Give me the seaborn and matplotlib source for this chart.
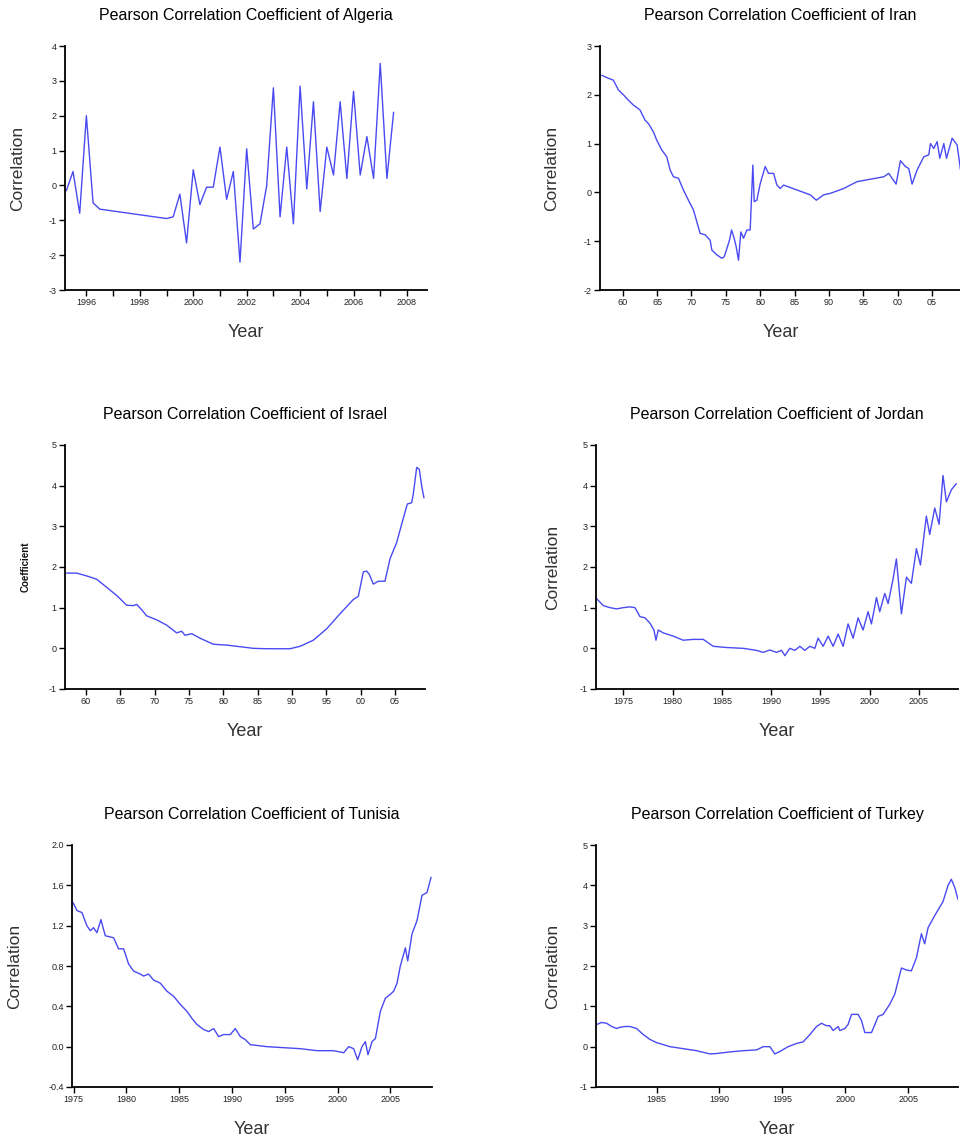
import matplotlib
matplotlib.use("Agg")
import matplotlib.pyplot as plt
import seaborn as sns
import pandas as pd

sns.set_style("ticks")
plt.rcParams['font.family'] = ['Liberation Sans', 'DejaVu Sans']

# ---------------- data ----------------
countries = ["Algeria", "Iran", "Israel", "Jordan", "Tunisia", "Turkey"]

algeria_years = [1995.25, 1995.5, 1995.75, 1996.0, 1996.25, 1996.5,
                 1999.0, 1999.25, 1999.5, 1999.75, 2000.0, 2000.25, 2000.5, 2000.75,
                 2001.0, 2001.25, 2001.5, 2001.75, 2002.0, 2002.25, 2002.5, 2002.75,
                 2003.0, 2003.25, 2003.5, 2003.75, 2004.0, 2004.25, 2004.5, 2004.75,
                 2005.0, 2005.25, 2005.5, 2005.75, 2006.0, 2006.25, 2006.5, 2006.75,
                 2007.0, 2007.25, 2007.5]
algeria_vals = [-0.15, 0.4, -0.8, 2.0, -0.5, -0.68,
                -0.95, -0.9, -0.25, -1.65, 0.45, -0.55, -0.05, -0.05,
                1.1, -0.4, 0.4, -2.2, 1.05, -1.25, -1.1, 0.0,
                2.8, -0.9, 1.1, -1.1, 2.85, -0.1, 2.4, -0.75,
                1.1, 0.3, 2.4, 0.2, 2.7, 0.3, 1.4, 0.2,
                3.5, 0.2, 2.1]

iran_years = [1956.94, 1957.91, 1958.64, 1959.37, 1960.1, 1960.83, 1961.55, 1962.52,
              1963.25, 1963.74, 1964.47, 1964.95, 1965.68, 1966.41, 1966.89, 1967.38,
              1968.11, 1968.83, 1969.56, 1970.29, 1970.78, 1971.26, 1971.99, 1972.72,
              1972.96, 1973.69, 1974.42, 1974.76, 1975.15, 1975.53, 1975.83, 1976.21,
              1976.5, 1976.84, 1977.18, 1977.57, 1978.06, 1978.54, 1978.93, 1979.13,
              1979.51, 1980.0, 1980.73, 1981.21, 1981.94, 1982.43, 1982.91, 1983.4,
              1985.34, 1987.28, 1988.16, 1989.22, 1990.19, 1992.14, 1994.08, 1996.02,
              1997.96, 1998.69, 1999.17, 1999.76, 2000.39, 2001.12, 2001.6, 2002.09,
              2002.82, 2003.79, 2004.51, 2004.76, 2005.24, 2005.73, 2006.12, 2006.7,
              2007.09, 2007.91, 2008.64, 2009.13]
iran_vals = [2.40, 2.34, 2.30, 2.10, 2.00, 1.89, 1.79, 1.69,
             1.48, 1.41, 1.24, 1.07, 0.87, 0.73, 0.46, 0.32,
             0.29, 0.05, -0.16, -0.36, -0.60, -0.84, -0.87, -0.98,
             -1.18, -1.28, -1.35, -1.32, -1.15, -0.98, -0.77, -0.94,
             -1.11, -1.39, -0.81, -0.94, -0.77, -0.77, 0.56, -0.19,
             -0.16, 0.18, 0.53, 0.39, 0.39, 0.15, 0.08, 0.15,
             0.05, -0.05, -0.16, -0.05, -0.02, 0.08, 0.22, 0.27,
             0.32, 0.39, 0.29, 0.17, 0.65, 0.53, 0.49, 0.17,
             0.46, 0.73, 0.77, 1.00, 0.90, 1.04, 0.70, 1.00,
             0.70, 1.11, 0.97, 0.46]

israel_years = [1957.18, 1958.64, 1960.1, 1961.55, 1963.01, 1964.47, 1965.92, 1966.89,
                1967.38, 1968.1, 1968.83, 1970.29, 1971.75, 1973.2, 1973.93, 1974.42,
                1975.39, 1976.6, 1978.54, 1980.49, 1982.43, 1984.37, 1986.31, 1988.25,
                1989.71, 1991.17, 1993.11, 1995.05, 1996.99, 1998.93, 1999.66, 2000.39,
                2000.87, 2001.26, 2001.84, 2002.57, 2003.54, 2004.27, 2005.24, 2006.21,
                2006.8, 2007.43, 2007.67, 2008.16, 2008.54, 2008.88, 2009.22]
israel_vals = [1.85, 1.85, 1.78, 1.70, 1.50, 1.30, 1.06, 1.05,
               1.08, 0.95, 0.80, 0.70, 0.57, 0.38, 0.42, 0.32,
               0.36, 0.25, 0.10, 0.08, 0.04, 0.00, -0.01, -0.01,
               -0.01, 0.05, 0.20, 0.48, 0.85, 1.20, 1.28, 1.88,
               1.90, 1.82, 1.58, 1.65, 1.65, 2.20, 2.60, 3.20,
               3.55, 3.58, 3.80, 4.45, 4.40, 4.00, 3.70]

jordan_years = [1972.3, 1972.97, 1973.65, 1974.32, 1975.0, 1975.68, 1976.18, 1976.69,
                1977.2, 1977.7, 1978.11, 1978.31, 1978.55, 1979.05, 1980.07, 1981.08,
                1982.09, 1983.11, 1984.12, 1985.47, 1987.16, 1988.51, 1989.19, 1989.86,
                1990.54, 1991.05, 1991.39, 1991.89, 1992.4, 1992.91, 1993.41, 1993.92,
                1994.43, 1994.76, 1995.27, 1995.78, 1996.28, 1996.79, 1997.3, 1997.8,
                1998.31, 1998.82, 1999.32, 1999.83, 2000.17, 2000.68, 2001.01, 2001.52,
                2001.86, 2002.36, 2002.7, 2003.21, 2003.72, 2004.22, 2004.73, 2005.14,
                2005.74, 2006.08, 2006.59, 2007.03, 2007.43, 2007.77, 2008.28, 2008.78]
jordan_vals = [1.22, 1.05, 1.00, 0.97, 1.00, 1.02, 1.00, 0.78,
               0.75, 0.62, 0.45, 0.20, 0.45, 0.38, 0.30, 0.20,
               0.22, 0.22, 0.05, 0.02, 0.00, -0.05, -0.10, -0.04,
               -0.10, -0.05, -0.18, 0.00, -0.05, 0.05, -0.05, 0.05,
               0.00, 0.25, 0.05, 0.30, 0.05, 0.35, 0.05, 0.60,
               0.25, 0.75, 0.45, 0.90, 0.60, 1.25, 0.90, 1.35,
               1.10, 1.70, 2.20, 0.85, 1.75, 1.60, 2.45, 2.05,
               3.25, 2.80, 3.45, 3.05, 4.25, 3.60, 3.90, 4.05]

tunisia_years = [1974.94, 1975.32, 1975.79, 1976.26, 1976.58, 1976.89, 1977.21, 1977.59,
                 1978.0, 1978.79, 1979.26, 1979.74, 1980.21, 1980.68, 1981.32, 1981.63,
                 1982.1, 1982.58, 1983.21, 1983.84, 1984.47, 1985.1, 1985.74, 1986.21,
                 1986.68, 1987.31, 1987.79, 1988.26, 1988.74, 1989.21, 1989.84, 1990.31,
                 1990.79, 1991.26, 1991.74, 1993.31, 1994.89, 1996.47, 1998.05, 1999.63,
                 2000.58, 2001.05, 2001.52, 2001.9, 2002.31, 2002.63, 2002.88, 2003.26,
                 2003.58, 2004.05, 2004.52, 2005.0, 2005.31, 2005.63, 2005.94, 2006.42,
                 2006.64, 2007.05, 2007.52, 2007.99, 2008.47, 2008.85]
tunisia_vals = [1.43, 1.35, 1.33, 1.20, 1.15, 1.18, 1.13, 1.26,
                1.10, 1.08, 0.97, 0.97, 0.82, 0.75, 0.72, 0.70,
                0.72, 0.66, 0.63, 0.55, 0.50, 0.42, 0.35, 0.28,
                0.22, 0.17, 0.15, 0.18, 0.10, 0.12, 0.12, 0.18,
                0.10, 0.07, 0.02, 0.00, -0.01, -0.02, -0.04, -0.04,
                -0.06, 0.00, -0.02, -0.13, 0.00, 0.05, -0.08, 0.05,
                0.08, 0.35, 0.48, 0.52, 0.55, 0.63, 0.80, 0.98,
                0.85, 1.12, 1.25, 1.50, 1.53, 1.68]

turkey_years = [1980.23, 1980.63, 1981.03, 1981.42, 1981.82, 1982.09, 1982.48, 1982.88,
                1983.41, 1983.94, 1984.47, 1985.0, 1986.06, 1987.12, 1988.18, 1989.24,
                1989.77, 1990.83, 1991.89, 1992.95, 1993.48, 1994.01, 1994.4, 1994.8,
                1995.46, 1996.13, 1996.66, 1997.19, 1997.72, 1998.11, 1998.51, 1998.77,
                1999.04, 1999.44, 1999.57, 1999.97, 2000.23, 2000.5, 2001.03, 2001.29,
                2001.56, 2002.09, 2002.36, 2002.62, 2003.01, 2003.54, 2003.94, 2004.47,
                2004.87, 2005.26, 2005.66, 2006.06, 2006.32, 2006.59, 2007.12, 2007.78,
                2008.18, 2008.44, 2008.71, 2008.97]
turkey_vals = [0.55, 0.60, 0.58, 0.50, 0.45, 0.48, 0.50, 0.50,
               0.45, 0.30, 0.18, 0.10, 0.00, -0.05, -0.10, -0.18,
               -0.17, -0.13, -0.10, -0.08, 0.00, 0.00, -0.18, -0.12,
               0.00, 0.08, 0.12, 0.30, 0.50, 0.58, 0.52, 0.52,
               0.40, 0.50, 0.40, 0.45, 0.55, 0.80, 0.80, 0.65,
               0.35, 0.35, 0.55, 0.75, 0.80, 1.05, 1.30, 1.95,
               1.90, 1.88, 2.20, 2.80, 2.55, 2.95, 3.25, 3.60,
               4.00, 4.15, 3.95, 3.65]

# tick labels
algeria_xticks = [1996, 1998, 2000, 2002, 2004, 2006, 2008]
algeria_xlabels = ["1996", "1998", "2000", "2002", "2004", "2006", "2008"]
two_digit_xticks = [1960, 1965, 1970, 1975, 1980, 1985, 1990, 1995, 2000, 2005]
two_digit_xlabels = ["60", "65", "70", "75", "80", "85", "90", "95", "00", "05"]
four_digit_xticks = [1975, 1980, 1985, 1990, 1995, 2000, 2005]
four_digit_xlabels = ["1975", "1980", "1985", "1990", "1995", "2000", "2005"]
turkey_xticks = [1985, 1990, 1995, 2000, 2005]
turkey_xlabels = ["1985", "1990", "1995", "2000", "2005"]

algeria_yticks = [-3, -2, -1, 0, 1, 2, 3, 4]
iran_yticks = [-2, -1, 0, 1, 2, 3]
wide_yticks = [-1, 0, 1, 2, 3, 4, 5]
tunisia_yticks = [-0.4, 0.0, 0.4, 0.8, 1.2, 1.6, 2.0]

# ---------------- drawing ----------------
LINE = "#4a4af2"
TXT = "#333333"

fig = plt.figure(figsize=(9.6, 11.41), dpi=100)
W, H = 960.0, 1141.0

def rect(l, t, r, b):
    return [l / W, 1 - b / H, (r - l) / W, (b - t) / H]

panels = [
    dict(name="Algeria", x=algeria_years, y=algeria_vals, rect=rect(65, 46, 427, 290),
         xlim=(1995.2, 2008.75), ylim=(-3, 4), xt=algeria_xticks, xl=algeria_xlabels,
         yt=algeria_yticks, yfmt="{:g}", ylabel="Correlation", minor=True, ylx=-0.13, xly=-0.175),
    dict(name="Iran", x=iran_years, y=iran_vals, rect=rect(600, 46, 961, 290),
         xlim=(1956.7, 2009.2), ylim=(-2, 3), xt=two_digit_xticks, xl=two_digit_xlabels,
         yt=iran_yticks, yfmt="{:g}", ylabel="Correlation", minor=False, ylx=-0.133, xly=-0.175),
    dict(name="Israel", x=israel_years, y=israel_vals, rect=rect(65, 445, 425, 689),
         xlim=(1956.94, 2009.37), ylim=(-1, 5), xt=two_digit_xticks, xl=two_digit_xlabels,
         yt=wide_yticks, yfmt="{:g}", ylabel="Coefficient", minor=False, ylx=-0.11, xly=-0.175),
    dict(name="Jordan", x=jordan_years, y=jordan_vals, rect=rect(596, 445, 958, 689),
         xlim=(1972.23, 2008.95), ylim=(-1, 5), xt=four_digit_xticks, xl=four_digit_xlabels,
         yt=wide_yticks, yfmt="{:g}", ylabel="Correlation", minor=False, ylx=-0.12, xly=-0.175),
    dict(name="Tunisia", x=tunisia_years, y=tunisia_vals, rect=rect(72, 845, 432, 1087),
         xlim=(1974.85, 2008.94), ylim=(-0.4, 2.0), xt=four_digit_xticks, xl=four_digit_xlabels,
         yt=tunisia_yticks, yfmt="{:.1f}", ylabel="Correlation", minor=False, ylx=-0.158, xly=-0.175),
    dict(name="Turkey", x=turkey_years, y=turkey_vals, rect=rect(596, 845, 958, 1087),
         xlim=(1980.18, 2008.97), ylim=(-1, 5), xt=turkey_xticks, xl=turkey_xlabels,
         yt=wide_yticks, yfmt="{:g}", ylabel="Correlation", minor=False, ylx=-0.12, xly=-0.175),
]

for p in panels:
    ax = fig.add_axes(p["rect"])
    df = pd.DataFrame({"Year": p["x"], "Value": p["y"]})
    sns.lineplot(data=df, x="Year", y="Value", ax=ax, color=LINE, linewidth=1.0,
                 estimator=None, sort=False)
    ax.set_xlim(*p["xlim"])
    ax.set_ylim(*p["ylim"])
    ax.set_xticks(p["xt"])
    ax.set_xticklabels(p["xl"])
    ax.set_yticks(p["yt"])
    ax.set_yticklabels([p["yfmt"].format(v) for v in p["yt"]])
    if p["minor"]:
        ax.set_xticks(list(range(1996, 2009)), minor=True)
        ax.tick_params(axis="x", which="minor", length=4, width=1.0, color="black")
    for s in ["top", "right"]:
        ax.spines[s].set_visible(False)
    for s in ["left", "bottom"]:
        ax.spines[s].set_linewidth(1.3)
        ax.spines[s].set_color("black")
    ax.tick_params(axis="both", which="major", direction="out", length=4, width=1.0,
                   labelsize=6.5, labelcolor="#222222", pad=2, color="black")
    ax.set_title(f"Pearson Correlation Coefficient of {p['name']}", fontsize=11.5,
                 color="black", pad=19)
    ax.set_xlabel("Year", fontsize=13, color=TXT, va="center")
    ax.xaxis.set_label_coords(0.5, p["xly"])
    if p["ylabel"] == "Coefficient":
        ax.set_ylabel(p["ylabel"], fontsize=7, fontweight="bold", color="#111111", va="center")
    else:
        ax.set_ylabel(p["ylabel"], fontsize=12.5, color=TXT, va="center")
    ax.yaxis.set_label_coords(p["ylx"], 0.5)

fig.savefig("out.png", dpi=100)
